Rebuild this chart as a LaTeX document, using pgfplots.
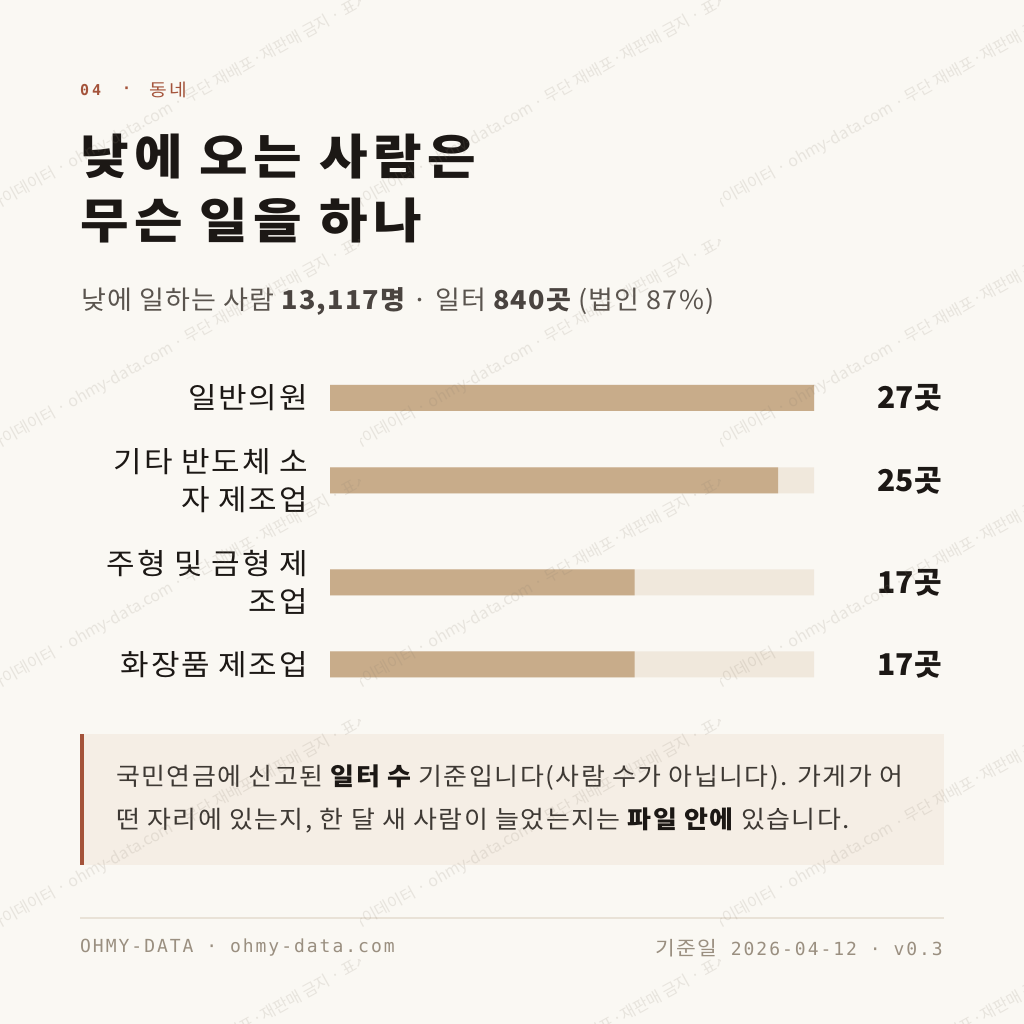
\documentclass[border=0pt]{standalone}
\usepackage{pgfplots}
\pgfplotsset{compat=1.18}
\usepackage{fontspec}
\setmainfont{Noto Sans CJK KR}
\newfontfamily\mono{DejaVu Sans Mono}
\definecolor{bg}{HTML}{FAF8F3}
\definecolor{ink}{HTML}{1C1815}
\definecolor{sub}{HTML}{5A544E}
\definecolor{subb}{HTML}{4A4440}
\definecolor{notetext}{HTML}{3E3934}
\definecolor{barc}{HTML}{C8AC8A}
\definecolor{track}{HTML}{F0E8DC}
\definecolor{accent}{HTML}{A4533A}
\definecolor{notebg}{HTML}{F5EEE5}
\definecolor{foot}{HTML}{9A8F80}
\definecolor{rulec}{HTML}{E9E2D7}
\definecolor{wm}{HTML}{8A7F70}
\begin{document}
\begin{tikzpicture}
\useasboundingbox (0,0) rectangle (1024pt,1024pt);
\clip (0,0) rectangle (1024pt,1024pt);
\fill[bg] (0,0) rectangle (1024pt,1024pt);
\begin{scope}[x=1pt,y=-1pt,shift={(0pt,1024pt)}]
% header
\node[anchor=west,inner sep=0pt,text=accent,font=\mono\bfseries\fontsize{15}{18}\selectfont] at (80,90) {0\hspace{3pt}4};
\node[anchor=west,inner sep=0pt,text=accent,font=\mono\bfseries\fontsize{15}{18}\selectfont] at (122,90) {·};
\node[anchor=west,inner sep=0pt,text=accent,font=\fontsize{17.5}{20}\selectfont\addfontfeature{FakeStretch=1.1}] at (149,90) {동\hspace{3pt}네};
% title
\node[anchor=west,inner sep=0pt,text=ink,font=\bfseries\fontsize{48}{58}\selectfont\addfontfeature{FakeStretch=1.1,LetterSpace=11}] at (80,157) {낮에 오는 사람은};
\node[anchor=west,inner sep=0pt,text=ink,font=\bfseries\fontsize{48}{58}\selectfont\addfontfeature{FakeStretch=1.1,LetterSpace=11}] at (80,221) {무슨 일을 하나};
% subtitle
\node[anchor=west,inner sep=0pt,text=sub,font=\fontsize{26}{32}\selectfont\addfontfeature{FakeStretch=1.04,LetterSpace=4.5}] at (81,302) {낮에 일하는 사람 \textcolor{subb}{\bfseries 13,117명} · 일터 \textcolor{subb}{\bfseries 840곳} (법인 87\%)};
% values
\foreach \yy/\tt in {398/27곳,481/25곳,583/17곳,665/17곳}{
  \node[anchor=east,inner sep=0pt,text=ink,font=\bfseries\fontsize{30}{36}\selectfont] at (942,\yy) {\tt};
}
% note box
\fill[notebg] (80,734) rectangle (944,865);
\fill[accent] (80,734) rectangle (84,865);
\node[anchor=west,inner sep=0pt,text=notetext,font=\fontsize{24.5}{30}\selectfont\addfontfeature{FakeStretch=1.06,LetterSpace=6}] at (116,778) {국민연금에 신고된 \textcolor{ink}{\bfseries 일터 수} 기준입니다(사람 수가 아닙니다). 가게가 어};
\node[anchor=west,inner sep=0pt,text=notetext,font=\fontsize{24.5}{30}\selectfont\addfontfeature{FakeStretch=1.06,LetterSpace=6}] at (116,820) {떤 자리에 있는지, 한 달 새 사람이 늘었는지는 \textcolor{ink}{\bfseries 파일 안에} 있습니다.};
% footer
\draw[rulec,line width=1.3pt] (80,918) -- (944,918);
\node[anchor=west,inner sep=0pt,text=foot,font=\mono\fontsize{18}{22}\selectfont\addfontfeature{LetterSpace=11}] at (80,948) {OHMY-DATA · ohmy-data.com};
\node[anchor=east,inner sep=0pt,text=foot] at (943,948) {{\fontsize{19.5}{22}\selectfont\addfontfeature{FakeStretch=1.1,LetterSpace=5}기준일}\hspace{14pt}{\mono\fontsize{18}{22}\selectfont\addfontfeature{LetterSpace=11}2026-04-12 · v0.3}};
\end{scope}

\begin{axis}[
  at={(330pt,324pt)}, anchor=south west,
  width=484pt, height=340pt, scale only axis,
  xmin=0, xmax=27, ymin=360, ymax=700, y dir=reverse,
  axis line style={draw=none}, major tick length=0pt,
  xtick=\empty,
  ytick={398,480.5,582.5,664.5},
  yticklabels={일반의원,{기타 반도체 소\\자 제조업},{주형 및 금형 제\\조업},화장품 제조업},
  yticklabel style={align=right, font=\fontsize{29}{38}\selectfont\addfontfeature{FakeStretch=1.07,LetterSpace=6}, text=ink, inner sep=0pt, xshift=-22pt},
  clip=false,
]
\addplot[xbar, bar width=26pt, bar shift=0pt, fill=track, draw=none] coordinates {(27,398) (27,480.5) (27,582.5) (27,664.5)};
\addplot[xbar, bar width=26pt, bar shift=0pt, fill=barc, draw=none] coordinates {(27,398) (25,480.5) (17,582.5) (17,664.5)};
\end{axis}

% watermark
\begin{scope}[x=1pt,y=-1pt,shift={(0pt,1024pt)}]
\foreach \tx in {0,360,720}{
  \foreach \ty in {0,240,480,720,960}{
    \begin{scope}
      \clip (\tx,\ty) rectangle ++(360,240);
      \node[anchor=base west,inner sep=0pt,rotate=29,text=wm,text opacity=0.16,font=\fontsize{16}{18}\selectfont] at (\tx-7,\ty+212) {아이데이터 · ohmy-data.com · 무단 재배포·재판매 금지 · 표시 금지};
    \end{scope}
  }
}
\end{scope}
\end{tikzpicture}
\end{document}
